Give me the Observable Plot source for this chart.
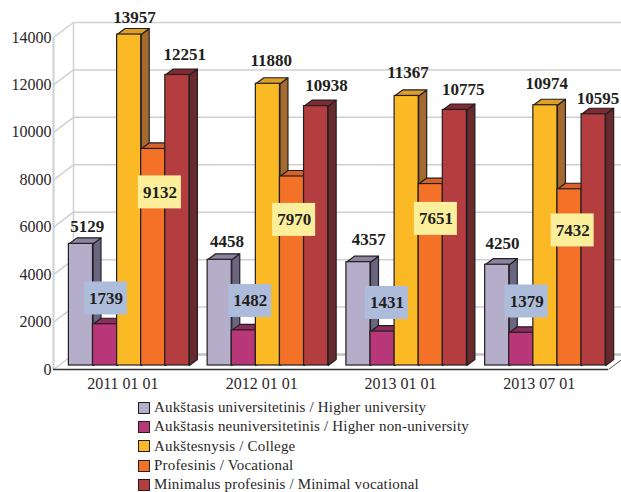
<!DOCTYPE html>
<html>
<head>
<meta charset="utf-8">
<script src="https://cdn.jsdelivr.net/npm/d3@7"></script>
<script src="https://cdn.jsdelivr.net/npm/@observablehq/plot@0.6"></script>
<style>
html,body{margin:0;padding:0;background:#fff;}
#wrap{width:621px;height:492px;overflow:hidden;font-family:"Liberation Serif",serif;color:#2b2728;}
#wrap svg{display:block;}
#legend{margin:6px 0 0 138px;}
.row{display:flex;align-items:center;height:19.3px;font-size:15px;letter-spacing:.18px;white-space:nowrap;}
.sw{width:10px;height:10px;border:1px solid #231f20;margin-right:4px;flex:none;}
</style>
</head>
<body>
<div id="wrap"></div>
<script>
const dates = ["2011 01 01", "2012 01 01", "2013 01 01", "2013 07 01"];
const seriesNames = [
  "Aukštasis universitetinis / Higher university",
  "Aukštasis neuniversitetinis / Higher non-university",
  "Aukštesnysis / College",
  "Profesinis / Vocational",
  "Minimalus profesinis / Minimal vocational"
];
const higherUniversity = [5129, 4458, 4357, 4250];
const higherNonUniversity = [1739, 1482, 1431, 1379];
const college = [13957, 11880, 11367, 10974];
const vocational = [9132, 7970, 7651, 7432];
const minimalVocational = [12251, 10938, 10775, 10595];
const yTicks = [0, 2000, 4000, 6000, 8000, 10000, 12000, 14000];

const colors = ["#b5aecb", "#b83778", "#fbb925", "#f37227", "#b43d40"];
const topColors = ["#8b84a0", "#8a2d5e", "#dd9f2a", "#d8632a", "#7f2b33"];
const sideColors = ["#6a6580", "#7a2a55", "#a56a2f", "#a8501f", "#692a2e"];

const values = [higherUniversity, higherNonUniversity, college, vocational, minimalVocational];

// geometry, expressed in scale units
const pxX = 138.75, pxY = 332 / 14000;
const start = 15.4 / pxX, slot = 24.1 / pxX;
const depthX = 8 / pxX, depthY = 6 / pxY;
const wallX = 20, wallY = -15;
const barDy = -4;

// hand-placement of the labels above the bars, in pixels, by series then date
const nudgeX = {0: [0, 1, 4, -1], 2: [-1, -3, -5, -5], 4: [1, 4, 2, -2]};
const nudgeY = {0: [-2, -3, -7, -6], 2: [-2, -8, -8, -6], 4: [-5, -5, -5, 0]};

const bars = [];
const faces = [];
dates.forEach((date, g) => values.forEach((vals, s) => {
  const v = vals[g], x1 = g + start + s * slot, x2 = x1 + slot;
  bars.push({date, series: seriesNames[s], v, x1, x2, s, g});
  const poly = (name, fill, pts) => pts.forEach(([x, y]) => faces.push({id: `${g}-${s}-${name}`, fill, x, y}));
  poly("side", sideColors[s], [[x2, 0], [x2 + depthX, depthY], [x2 + depthX, v + depthY], [x2, v], [x2, 0]]);
  poly("top", topColors[s], [[x1, v], [x1 + depthX, v + depthY], [x2 + depthX, v + depthY], [x2, v], [x1, v]]);
}));

// label anchors for the two boxed series
const boxY = [[2996, 2890, 2806, 2869], [7468, 6308, 6350, 5865]];
const boxX = [[37, 42.5, 40.5, 41.5], [91, 86.5, 89.5, 87.5]];
const boxFill = ["#aebcdc", "#fbef9c"];
const boxes = [];
[1, 3].forEach((s, k) => dates.forEach((d, g) => {
  const cx = g + start + boxX[k][g] / pxX;
  boxes.push({text: values[s][g], cx, cy: boxY[k][g], x1: cx - 21.5 / pxX, x2: cx + 21.5 / pxX,
    y1: boxY[k][g] - 16.5 / pxY, y2: boxY[k][g] + 16.5 / pxY, fill: boxFill[k]});
}));
const topLabels = bars.filter(b => b.s === 0 || b.s === 2 || b.s === 4);

const plot = Plot.plot({
  width: 621, height: 392,
  marginLeft: 53, marginRight: 13, marginTop: 37, marginBottom: 23,
  style: {fontFamily: '"Liberation Serif", serif', overflow: "hidden", background: "transparent"},
  x: {type: "linear", domain: [0, 4], label: null},
  y: {domain: [0, 14000], label: null},
  color: {domain: seriesNames, range: colors},
  marks: [
    // walls
    Plot.ruleY(yTicks, {x1: 0, x2: 4, dx: wallX, dy: wallY, stroke: "#d0d0d0", strokeWidth: 1.5}),
    Plot.ruleY([0], {x1: 0, x2: 4, dx: wallX, dy: wallY, stroke: "#c4c4c4", strokeWidth: 2.5}),
    Plot.ruleX([0], {y1: 0, y2: 14000, dx: wallX, dy: wallY, stroke: "#d0d0d0", strokeWidth: 1.5}),
    Plot.ruleX([0], {y1: 0, y2: 14000, stroke: "#d0d0d0", strokeWidth: 2}),
    Plot.link(yTicks, {x1: 0, y1: d => d, x2: wallX / pxX, y2: d => d - wallY / pxY, stroke: "#d0d0d0", strokeWidth: 1.5}),
    Plot.link([0], {x1: 4, y1: 0, x2: 4 + wallX / pxX, y2: -wallY / pxY, stroke: "#555", strokeWidth: 1}),
    // bars
    Plot.line(faces, {x: "x", y: "y", z: "id", fill: {value: "fill", scale: null}, stroke: "#231f20", strokeWidth: 1.2, dy: barDy, strokeLinejoin: "round"}),
    Plot.rect(bars, {x1: "x1", x2: "x2", y1: 0, y2: "v", fill: "series", stroke: "#231f20", strokeWidth: 1.2, dy: barDy}),
    // front axis line
    Plot.ruleY([0], {x1: 0, x2: 4, stroke: "#333", strokeWidth: 1.5}),
    Plot.axisY({ticks: yTicks, tickSize: 0, tickPadding: 2, tickFormat: d => String(d), fontSize: 16, label: null, fill: "#2b2728"}),
    Plot.axisX({ticks: dates.map((d, i) => i + 0.5), tickFormat: v => dates[Math.floor(v)], tickSize: 0, tickPadding: 8, fontSize: 16, label: null, fill: "#2b2728"}),
    // value labels
    Plot.text(topLabels, {
      x: d => (d.x1 + d.x2) / 2 + depthX * 0.8 + nudgeX[d.s][d.g] / pxX,
      y: d => d.v + depthY - nudgeY[d.s][d.g] / pxY,
      text: d => String(d.v), dy: barDy - 4, lineAnchor: "bottom",
      fontSize: 17, fontWeight: "bold", fill: "#231f20", letterSpacing: 0.3
    }),
    Plot.rect(boxes, {x1: "x1", x2: "x2", y1: "y1", y2: "y2", fill: {value: "fill", scale: null}}),
    Plot.text(boxes, {x: "cx", y: "cy", text: d => String(d.text), fontSize: 17, fontWeight: "bold", fill: "#231f20", letterSpacing: 0.3})
  ]
});
const wrap = document.getElementById("wrap");
wrap.appendChild(plot);
const legend = document.createElement("div");
legend.id = "legend";
seriesNames.forEach((n, i) => {
  const r = document.createElement("div"); r.className = "row";
  const s = document.createElement("span"); s.className = "sw"; s.style.background = colors[i];
  const t = document.createElement("span"); t.textContent = n;
  r.append(s, t); legend.appendChild(r);
});
wrap.appendChild(legend);
</script>
</body>
</html>
